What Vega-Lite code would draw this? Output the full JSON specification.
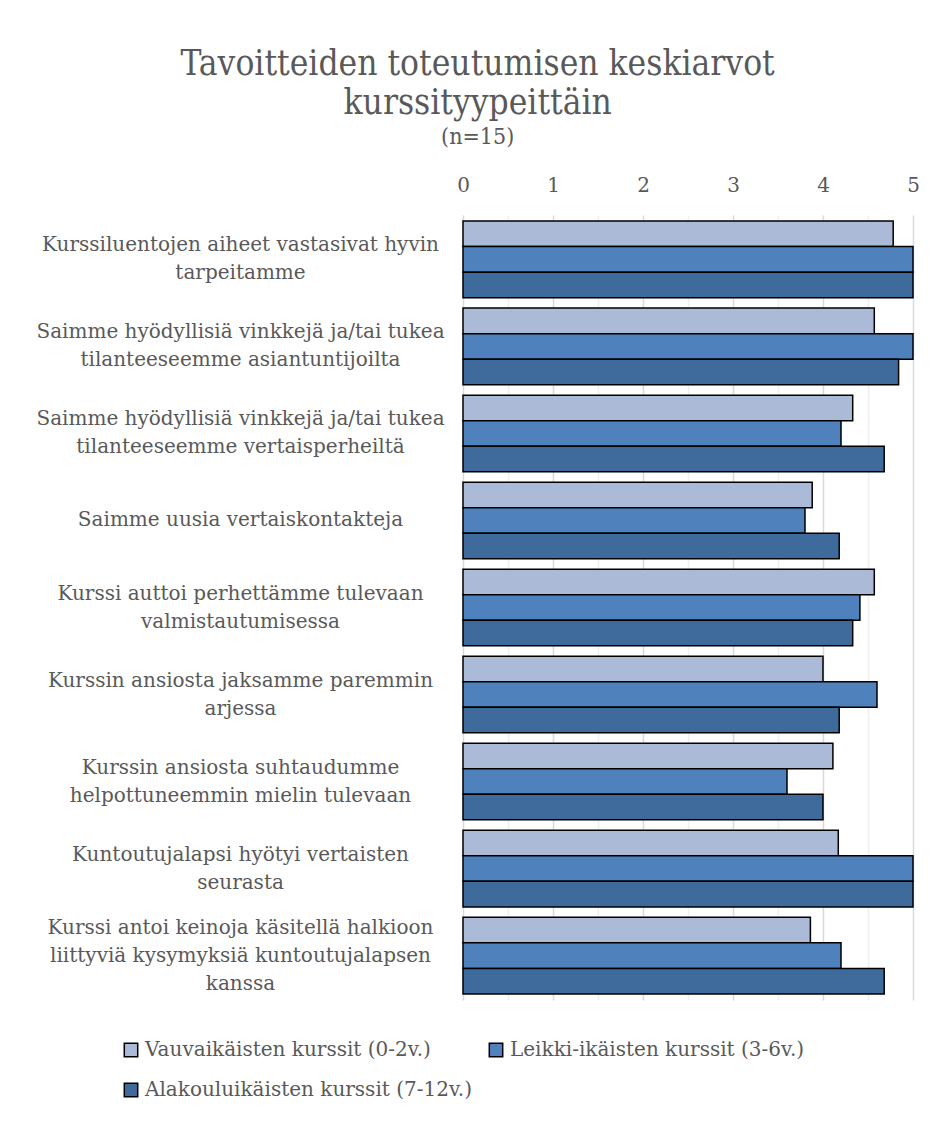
{
  "$schema": "https://vega.github.io/schema/vega-lite/v6.json",
  "width": 450,
  "height": 785,
  "autosize": {"type": "none"},
  "padding": {"left": 463, "top": 215, "right": 23, "bottom": 122},
  "background": "white",
  "title": {
    "text": ["Tavoitteiden toteutumisen keskiarvot", "kurssityypeittäin"],
    "subtitle": "(n=15)",
    "frame": "bounds",
    "anchor": "middle",
    "font": "DejaVu Serif Condensed",
    "fontSize": 35,
    "fontWeight": "normal",
    "lineHeight": 39,
    "color": "#595959",
    "subtitleFont": "DejaVu Serif Condensed",
    "subtitleFontSize": 23,
    "subtitleColor": "#595959",
    "subtitlePadding": 5,
    "offset": 26
  },
  "data": {
    "values": [
      {"cat": "Kurssiluentojen aiheet vastasivat hyvin|tarpeitamme", "series": "Vauvaikäisten kurssit (0-2v.)", "value": 4.78},
      {"cat": "Kurssiluentojen aiheet vastasivat hyvin|tarpeitamme", "series": "Leikki-ikäisten kurssit (3-6v.)", "value": 5},
      {"cat": "Kurssiluentojen aiheet vastasivat hyvin|tarpeitamme", "series": "Alakouluikäisten kurssit (7-12v.)", "value": 5},
      {"cat": "Saimme hyödyllisiä vinkkejä ja/tai tukea|tilanteeseemme asiantuntijoilta", "series": "Vauvaikäisten kurssit (0-2v.)", "value": 4.57},
      {"cat": "Saimme hyödyllisiä vinkkejä ja/tai tukea|tilanteeseemme asiantuntijoilta", "series": "Leikki-ikäisten kurssit (3-6v.)", "value": 5},
      {"cat": "Saimme hyödyllisiä vinkkejä ja/tai tukea|tilanteeseemme asiantuntijoilta", "series": "Alakouluikäisten kurssit (7-12v.)", "value": 4.84},
      {"cat": "Saimme hyödyllisiä vinkkejä ja/tai tukea|tilanteeseemme vertaisperheiltä", "series": "Vauvaikäisten kurssit (0-2v.)", "value": 4.33},
      {"cat": "Saimme hyödyllisiä vinkkejä ja/tai tukea|tilanteeseemme vertaisperheiltä", "series": "Leikki-ikäisten kurssit (3-6v.)", "value": 4.2},
      {"cat": "Saimme hyödyllisiä vinkkejä ja/tai tukea|tilanteeseemme vertaisperheiltä", "series": "Alakouluikäisten kurssit (7-12v.)", "value": 4.68},
      {"cat": "Saimme uusia vertaiskontakteja", "series": "Vauvaikäisten kurssit (0-2v.)", "value": 3.88},
      {"cat": "Saimme uusia vertaiskontakteja", "series": "Leikki-ikäisten kurssit (3-6v.)", "value": 3.8},
      {"cat": "Saimme uusia vertaiskontakteja", "series": "Alakouluikäisten kurssit (7-12v.)", "value": 4.18},
      {"cat": "Kurssi auttoi perhettämme tulevaan|valmistautumisessa", "series": "Vauvaikäisten kurssit (0-2v.)", "value": 4.57},
      {"cat": "Kurssi auttoi perhettämme tulevaan|valmistautumisessa", "series": "Leikki-ikäisten kurssit (3-6v.)", "value": 4.41},
      {"cat": "Kurssi auttoi perhettämme tulevaan|valmistautumisessa", "series": "Alakouluikäisten kurssit (7-12v.)", "value": 4.33},
      {"cat": "Kurssin ansiosta jaksamme paremmin|arjessa", "series": "Vauvaikäisten kurssit (0-2v.)", "value": 4.0},
      {"cat": "Kurssin ansiosta jaksamme paremmin|arjessa", "series": "Leikki-ikäisten kurssit (3-6v.)", "value": 4.6},
      {"cat": "Kurssin ansiosta jaksamme paremmin|arjessa", "series": "Alakouluikäisten kurssit (7-12v.)", "value": 4.18},
      {"cat": "Kurssin ansiosta suhtaudumme|helpottuneemmin mielin tulevaan", "series": "Vauvaikäisten kurssit (0-2v.)", "value": 4.11},
      {"cat": "Kurssin ansiosta suhtaudumme|helpottuneemmin mielin tulevaan", "series": "Leikki-ikäisten kurssit (3-6v.)", "value": 3.6},
      {"cat": "Kurssin ansiosta suhtaudumme|helpottuneemmin mielin tulevaan", "series": "Alakouluikäisten kurssit (7-12v.)", "value": 4.0},
      {"cat": "Kuntoutujalapsi hyötyi vertaisten|seurasta", "series": "Vauvaikäisten kurssit (0-2v.)", "value": 4.17},
      {"cat": "Kuntoutujalapsi hyötyi vertaisten|seurasta", "series": "Leikki-ikäisten kurssit (3-6v.)", "value": 5},
      {"cat": "Kuntoutujalapsi hyötyi vertaisten|seurasta", "series": "Alakouluikäisten kurssit (7-12v.)", "value": 5},
      {"cat": "Kurssi antoi keinoja käsitellä halkioon|liittyviä kysymyksiä kuntoutujalapsen|kanssa", "series": "Vauvaikäisten kurssit (0-2v.)", "value": 3.86},
      {"cat": "Kurssi antoi keinoja käsitellä halkioon|liittyviä kysymyksiä kuntoutujalapsen|kanssa", "series": "Leikki-ikäisten kurssit (3-6v.)", "value": 4.2},
      {"cat": "Kurssi antoi keinoja käsitellä halkioon|liittyviä kysymyksiä kuntoutujalapsen|kanssa", "series": "Alakouluikäisten kurssit (7-12v.)", "value": 4.68}
    ]
  },
  "mark": {"type": "bar", "stroke": "#000000", "strokeWidth": 1.5},
  "encoding": {
    "y": {
      "field": "cat",
      "type": "nominal",
      "sort": null,
      "scale": {"paddingInner": 0.12, "paddingOuter": 0.07},
      "axis": {
        "title": null,
        "orient": "left",
        "ticks": false,
        "domain": false,
        "labelExpr": "split(datum.label, '|')",
        "labelAlign": "center",
        "labelBaseline": "middle",
        "labelPadding": 223,
        "labelOffset": {
          "condition": [
            {"test": "length(split(datum.label, '|')) === 3", "value": -28},
            {"test": "length(split(datum.label, '|')) === 2", "value": -14}
          ],
          "value": 0
        },
        "labelLimit": 500,
        "labelFont": "DejaVu Serif",
        "labelFontSize": 20,
        "labelLineHeight": 28,
        "labelColor": "#595959"
      }
    },
    "yOffset": {
      "field": "series",
      "type": "nominal",
      "sort": ["Vauvaikäisten kurssit (0-2v.)", "Leikki-ikäisten kurssit (3-6v.)", "Alakouluikäisten kurssit (7-12v.)"],
      "scale": {"paddingInner": 0, "paddingOuter": 0}
    },
    "x": {
      "field": "value",
      "type": "quantitative",
      "scale": {"domain": [0, 5], "nice": false},
      "axis": {
        "title": null,
        "orient": "top",
        "values": [0, 0.5, 1, 1.5, 2, 2.5, 3, 3.5, 4, 4.5, 5],
        "labelExpr": "datum.value % 1 === 0 ? toString(datum.value) : ''",
        "labelFlush": false,
        "ticks": false,
        "domain": false,
        "labelPadding": 20,
        "labelFont": "DejaVu Serif",
        "labelFontSize": 20,
        "labelColor": "#595959",
        "gridColor": {"condition": {"test": "datum.value % 1 === 0", "value": "#d9d9d9"}, "value": "#efefef"},
        "gridWidth": 1.5
      }
    },
    "fill": {
      "field": "series",
      "type": "nominal",
      "scale": {
        "domain": ["Vauvaikäisten kurssit (0-2v.)", "Leikki-ikäisten kurssit (3-6v.)", "Alakouluikäisten kurssit (7-12v.)"],
        "range": ["#abbad7", "#4f81bd", "#3f6a9c"]
      },
      "legend": {
        "title": null,
        "orient": "none",
        "legendX": -342,
        "legendY": 825,
        "direction": "horizontal",
        "columns": 2,
        "columnPadding": 14,
        "rowPadding": 20,
        "symbolType": "square",
        "symbolSize": 180,
        "symbolStrokeColor": "#000000",
        "symbolStrokeWidth": 1.5,
        "labelFont": "DejaVu Serif",
        "labelFontSize": 20,
        "labelColor": "#595959",
        "labelLimit": 500,
        "labelOffset": 4
      }
    }
  },
  "config": {
    "view": {"stroke": null}
  }
}
